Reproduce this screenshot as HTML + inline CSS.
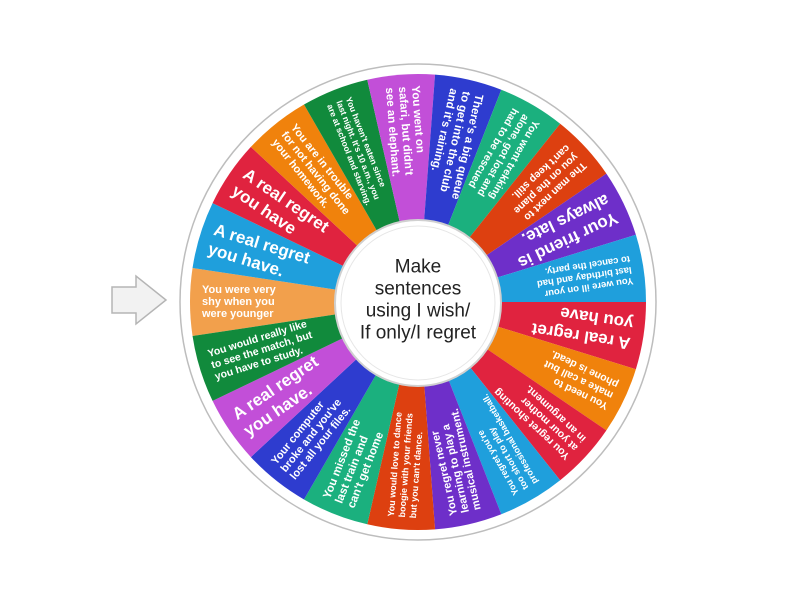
<!DOCTYPE html>
<html><head><meta charset="utf-8"><style>
html,body{margin:0;padding:0;background:#fff;}
svg{display:block;}
text{font-family:"Liberation Sans",sans-serif;font-weight:bold;fill:#fff;dominant-baseline:central;}
</style></head><body>
<svg width="800" height="600" viewBox="0 0 800 600" xmlns="http://www.w3.org/2000/svg">
<defs>
<path id="w" d="M418,302 L192.55,268.02 A228,228 0 0 0 192.55,335.98 Z"/>
</defs>
<!-- arrow -->
<path d="M112,287 L136,287 L136,276 L166,300 L136,324 L136,313 L112,313 Z" fill="#f2f2f2" stroke="#b5b5b5" stroke-width="1.5"/>
<!-- rim -->
<circle cx="418" cy="302" r="238" fill="#fff" stroke="#bdbdbd" stroke-width="1.5"/>

<g transform="rotate(0 418 302)"><use href="#w" fill="#f2a04c"/><text font-size="11" y="290"><tspan x="202" dy="0">You were very</tspan><tspan x="202" dy="12">shy when you</tspan><tspan x="202" dy="12">were younger</tspan></text></g>
<g transform="rotate(17.143 418 302)"><use href="#w" fill="#1f9fdc"/><text font-size="17" y="292"><tspan x="202" dy="0">A real regret</tspan><tspan x="202" dy="20">you have.</tspan></text></g>
<g transform="rotate(34.286 418 302)"><use href="#w" fill="#e0233f"/><text font-size="17" y="292"><tspan x="202" dy="0">A real regret</tspan><tspan x="202" dy="20">you have</tspan></text></g>
<g transform="rotate(51.429 418 302)"><use href="#w" fill="#f0820c"/><text font-size="11" y="290"><tspan x="202" dy="0">You are in trouble</tspan><tspan x="202" dy="12">for not having done</tspan><tspan x="202" dy="12">your homework.</tspan></text></g>
<g transform="rotate(68.571 418 302)"><use href="#w" fill="#118a3c"/><text font-size="8.5" y="292"><tspan x="202" dy="0">You haven't eaten since</tspan><tspan x="202" dy="10">last night. It's 10 a.m., you</tspan><tspan x="202" dy="10">are at school and starving.</tspan></text></g>
<g transform="rotate(85.714 418 302)"><use href="#w" fill="#c24fd8"/><text font-size="11.5" y="289"><tspan x="202" dy="0">You went on</tspan><tspan x="202" dy="13">safari, but didn't</tspan><tspan x="202" dy="13">see an elephant.</tspan></text></g>
<g transform="rotate(102.857 418 302)"><use href="#w" fill="#2e3ccf"/><text font-size="11.5" y="289"><tspan x="202" dy="0">There's a big queue</tspan><tspan x="202" dy="13">to get into the club</tspan><tspan x="202" dy="13">and it's raining.</tspan></text></g>
<g transform="rotate(120 418 302)"><use href="#w" fill="#1bb07e"/><text font-size="10.5" y="290"><tspan x="202" dy="0">You went trekking</tspan><tspan x="202" dy="12">alone, got lost and</tspan><tspan x="202" dy="12">had to be rescued</tspan></text></g>
<g transform="rotate(137.143 418 302)"><use href="#w" fill="#dd4010"/><text font-size="10.5" y="290"><tspan x="202" dy="0">The man next to</tspan><tspan x="202" dy="12">you on the plane</tspan><tspan x="202" dy="12">can't keep still.</tspan></text></g>
<g transform="rotate(154.286 418 302)"><use href="#w" fill="#6e2fc9"/><text font-size="17" y="292"><tspan x="202" dy="0">Your friend is</tspan><tspan x="202" dy="20">always late.</tspan></text></g>
<g transform="rotate(171.429 418 302)"><use href="#w" fill="#1f9fdc"/><text font-size="9.5" y="291"><tspan x="202" dy="0">You were ill on your</tspan><tspan x="202" dy="11">last birthday and had</tspan><tspan x="202" dy="11">to cancel the party.</tspan></text></g>
<g transform="rotate(188.571 418 302)"><use href="#w" fill="#e0233f"/><text font-size="17" y="292"><tspan x="202" dy="0">A real regret</tspan><tspan x="202" dy="20">you have</tspan></text></g>
<g transform="rotate(205.714 418 302)"><use href="#w" fill="#f0820c"/><text font-size="10.5" y="290"><tspan x="202" dy="0">You need to</tspan><tspan x="202" dy="12">make a call but</tspan><tspan x="202" dy="12">phone is dead.</tspan></text></g>
<g transform="rotate(222.857 418 302)"><use href="#w" fill="#e0233f"/><text font-size="10.5" y="290"><tspan x="202" dy="0">You regret shouting</tspan><tspan x="202" dy="12">at your mother</tspan><tspan x="202" dy="12">in an argument.</tspan></text></g>
<g transform="rotate(240 418 302)"><use href="#w" fill="#1f9fdc"/><text font-size="9" y="291"><tspan x="202" dy="0">You regret you're</tspan><tspan x="202" dy="11">too short to play</tspan><tspan x="202" dy="11">professional basketball.</tspan></text></g>
<g transform="rotate(257.143 418 302)"><use href="#w" fill="#6e2fc9"/><text font-size="11" y="290"><tspan x="202" dy="0">You regret never</tspan><tspan x="202" dy="12">learning to play a</tspan><tspan x="202" dy="12">musical instrument.</tspan></text></g>
<g transform="rotate(274.286 418 302)"><use href="#w" fill="#dd4010"/><text font-size="9" y="291"><tspan x="202" dy="0">You would love to dance</tspan><tspan x="202" dy="11">boogie with your friends</tspan><tspan x="202" dy="11">but you can't dance.</tspan></text></g>
<g transform="rotate(291.429 418 302)"><use href="#w" fill="#1bb07e"/><text font-size="11.5" y="289"><tspan x="202" dy="0">You missed the</tspan><tspan x="202" dy="13">last train and</tspan><tspan x="202" dy="13">can't get home</tspan></text></g>
<g transform="rotate(308.571 418 302)"><use href="#w" fill="#2e3ccf"/><text font-size="11" y="290"><tspan x="202" dy="0">Your computer</tspan><tspan x="202" dy="12">broke and you've</tspan><tspan x="202" dy="12">lost all your files.</tspan></text></g>
<g transform="rotate(325.714 418 302)"><use href="#w" fill="#c24fd8"/><text font-size="17" y="292"><tspan x="202" dy="0">A real regret</tspan><tspan x="202" dy="20">you have.</tspan></text></g>
<g transform="rotate(342.857 418 302)"><use href="#w" fill="#118a3c"/><text font-size="10.5" y="290"><tspan x="202" dy="0">You would really like</tspan><tspan x="202" dy="12">to see the match, but</tspan><tspan x="202" dy="12">you have to study.</tspan></text></g>

<!-- center -->
<circle cx="418" cy="303" r="83" fill="#fff" stroke="#d0d0d0" stroke-width="2"/>
<circle cx="418" cy="303" r="77" fill="#fff" stroke="#e6e6e6" stroke-width="1"/>
<g style="font-family:'Liberation Sans',sans-serif;font-size:19px;fill:#222;" text-anchor="middle">
<text x="418" y="267" style="fill:#222;font-weight:normal">Make</text>
<text x="418" y="289" style="fill:#222;font-weight:normal">sentences</text>
<text x="418" y="311" style="fill:#222;font-weight:normal">using I wish/</text>
<text x="418" y="333" style="fill:#222;font-weight:normal">If only/I regret</text>
</g>
</svg>
</body></html>
